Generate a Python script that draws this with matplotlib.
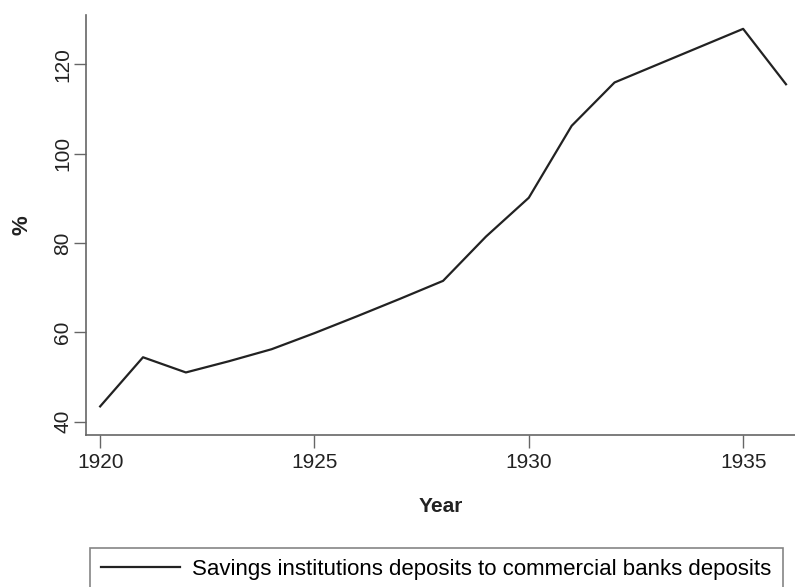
import numpy as np
import matplotlib.pyplot as plt

plt.rcParams['font.family'] = ['Liberation Sans', 'DejaVu Sans']

# data
years = [1920, 1921, 1922, 1923, 1924, 1925, 1926, 1927, 1928,
         1929, 1930, 1931, 1932, 1933, 1934, 1935, 1936]
ratio = [43.4, 54.4, 51.0, 53.5, 56.2, 59.8, 63.6, 67.5, 71.5,
         81.4, 90.1, 106.2, 115.9, 119.9, 123.9, 127.9, 115.5]
xticks = [1920, 1925, 1930, 1935]
yticks = [40, 60, 80, 100, 120]
label = 'Savings institutions deposits to commercial banks deposits'

W, H = 795, 587
fig = plt.figure(figsize=(W / 100, H / 100), dpi=100)
ax = fig.add_axes([86 / W, (H - 435) / H, (W - 86) / W, (435 - 15) / H])

line, = ax.plot(years, ratio, color='#222222', lw=1.6, label=label)

ax.set_xlim(1919.67, 1936.21)
ax.set_ylim(37.0, 131.0)
ax.set_xticks(xticks)
ax.set_yticks(yticks)

for s in ['top', 'right']:
    ax.spines[s].set_visible(False)
for s in ['left', 'bottom']:
    ax.spines[s].set_color('#666666')
    ax.spines[s].set_linewidth(1.2)

ax.tick_params(axis='both', direction='out', length=9, width=1.0,
               color='#666666', labelsize=15, labelcolor='#222222')
ax.tick_params(axis='x', pad=4)
ax.tick_params(axis='y', pad=1)
for t in ax.get_yticklabels():
    t.set_rotation(90)
    t.set_va('center')

ax.set_xlabel('Year', fontsize=15, fontweight='bold', labelpad=18, color='#222222')
ax.set_ylabel('%', fontsize=16, fontweight='bold', labelpad=15, color='#222222')

leg = fig.legend(handles=[line], loc='upper left', bbox_to_anchor=(90 / W, 1 - 548 / H),
                 fontsize=16, frameon=True, fancybox=False, handlelength=3.55,
                 borderpad=0.5, handletextpad=0.55, borderaxespad=0)
leg.get_frame().set_edgecolor('#666666')
leg.get_frame().set_linewidth(1.2)

fig.savefig('out.png', dpi=100)
